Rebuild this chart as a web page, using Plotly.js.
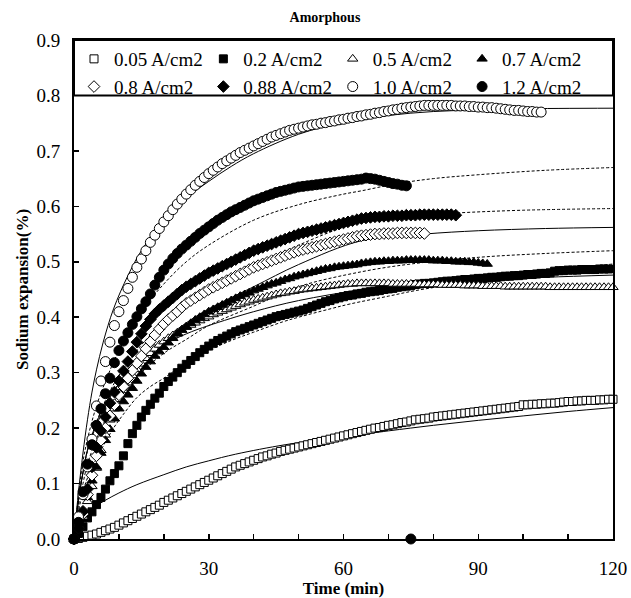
<!DOCTYPE html>
<html>
<head>
<meta charset="utf-8">
<script src="https://cdn.plot.ly/plotly-3.0.1.min.js"></script>
<style>html,body{margin:0;padding:0;background:#fff;}#chart{width:631px;height:598px;}</style>
</head>
<body>
<div id="chart"></div>
<script>
// Measured series: one value per minute starting at t = 0 (min)
const seriesNames = ["0.05 A/cm2","0.2 A/cm2","0.5 A/cm2","0.7 A/cm2","0.8 A/cm2","0.88 A/cm2","1.0 A/cm2","1.2 A/cm2"];

const v005 = [0,0.001,0.003,0.005,0.007,0.009,0.012,0.015,0.018,0.021,0.025,0.029,0.033,0.037,0.041,0.045,0.049,0.053,0.057,0.061,0.066,0.070,0.074,0.078,0.082,0.086,0.090,0.094,0.098,0.102,0.106,0.110,0.114,0.118,0.122,0.126,0.130,0.133,0.136,0.139,0.142,0.145,0.148,0.150,0.153,0.155,0.158,0.160,0.162,0.164,0.166,0.168,0.170,0.172,0.174,0.176,0.178,0.180,0.182,0.184,0.186,0.188,0.190,0.192,0.194,0.196,0.198,0.200,0.201,0.203,0.205,0.206,0.208,0.210,0.211,0.213,0.215,0.216,0.217,0.218,0.220,0.221,0.222,0.223,0.224,0.225,0.226,0.227,0.228,0.229,0.230,0.231,0.232,0.233,0.234,0.235,0.236,0.237,0.238,0.239,0.242,0.242,0.243,0.243,0.244,0.244,0.245,0.245,0.246,0.247,0.248,0.248,0.249,0.249,0.250,0.250,0.250,0.251,0.251,0.252,0.252];

const v02 = [0,0.010,0.022,0.038,0.049,0.062,0.075,0.090,0.105,0.118,0.132,0.150,0.172,0.190,0.205,0.220,0.232,0.243,0.254,0.263,0.275,0.284,0.292,0.300,0.308,0.315,0.322,0.329,0.336,0.342,0.348,0.353,0.358,0.362,0.366,0.370,0.374,0.377,0.380,0.383,0.386,0.389,0.392,0.395,0.398,0.401,0.403,0.405,0.407,0.409,0.411,0.413,0.416,0.419,0.422,0.425,0.428,0.430,0.433,0.435,0.437,0.439,0.440,0.442,0.443,0.445,0.446,0.447,0.448,0.450,0.451,0.452,0.454,0.455,0.456,0.457,0.459,0.460,0.461,0.461,0.462,0.463,0.464,0.465,0.465,0.466,0.467,0.468,0.468,0.469,0.470,0.470,0.471,0.472,0.472,0.473,0.474,0.474,0.475,0.475,0.476,0.477,0.477,0.478,0.479,0.479,0.480,0.483,0.484,0.484,0.485,0.485,0.485,0.486,0.486,0.486,0.486,0.487,0.487,0.487];

const v05 = [0,0.020,0.040,0.068,0.095,0.128,0.160,0.188,0.215,0.235,0.252,0.268,0.282,0.295,0.306,0.316,0.326,0.335,0.343,0.350,0.356,0.362,0.367,0.372,0.377,0.382,0.386,0.390,0.394,0.398,0.401,0.405,0.408,0.411,0.414,0.417,0.420,0.423,0.426,0.428,0.431,0.433,0.435,0.437,0.439,0.441,0.443,0.444,0.446,0.447,0.449,0.450,0.451,0.452,0.453,0.454,0.455,0.456,0.457,0.458,0.459,0.460,0.460,0.461,0.461,0.461,0.461,0.461,0.461,0.461,0.461,0.460,0.460,0.460,0.460,0.460,0.460,0.459,0.459,0.459,0.459,0.459,0.458,0.458,0.458,0.458,0.458,0.457,0.457,0.457,0.457,0.456,0.456,0.456,0.456,0.456,0.455,0.455,0.455,0.455,0.455,0.455,0.455,0.455,0.455,0.455,0.454,0.454,0.454,0.454,0.454,0.454,0.454,0.454,0.454,0.454,0.454,0.454,0.454,0.454,0.454];

const v07 = [0,0.020,0.045,0.075,0.105,0.130,0.155,0.178,0.198,0.217,0.235,0.248,0.260,0.272,0.285,0.298,0.310,0.320,0.330,0.338,0.346,0.354,0.362,0.370,0.377,0.383,0.389,0.395,0.400,0.405,0.410,0.414,0.418,0.422,0.426,0.430,0.434,0.438,0.441,0.444,0.448,0.451,0.454,0.457,0.460,0.462,0.465,0.468,0.470,0.473,0.475,0.477,0.479,0.481,0.483,0.485,0.487,0.488,0.490,0.491,0.492,0.493,0.494,0.495,0.497,0.498,0.499,0.500,0.500,0.501,0.501,0.502,0.502,0.502,0.503,0.503,0.503,0.503,0.503,0.503,0.502,0.502,0.502,0.501,0.501,0.500,0.500,0.500,0.499,0.499,0.498,0.497,0.496];

const v08 = [0,0.020,0.045,0.080,0.115,0.150,0.178,0.200,0.222,0.242,0.260,0.275,0.290,0.304,0.317,0.330,0.343,0.356,0.368,0.379,0.388,0.396,0.403,0.410,0.418,0.425,0.430,0.435,0.440,0.445,0.450,0.454,0.458,0.462,0.466,0.470,0.474,0.478,0.482,0.486,0.490,0.493,0.496,0.499,0.502,0.505,0.508,0.511,0.514,0.517,0.520,0.522,0.524,0.526,0.528,0.530,0.532,0.534,0.536,0.538,0.540,0.542,0.544,0.546,0.547,0.548,0.549,0.550,0.550,0.551,0.551,0.551,0.552,0.552,0.552,0.552,0.552,0.552,0.551];

const v088 = [0,0.020,0.050,0.090,0.130,0.165,0.195,0.220,0.245,0.265,0.285,0.303,0.320,0.338,0.355,0.370,0.384,0.396,0.406,0.414,0.421,0.428,0.435,0.442,0.449,0.455,0.460,0.465,0.470,0.475,0.480,0.484,0.488,0.492,0.496,0.500,0.504,0.508,0.512,0.516,0.520,0.523,0.526,0.529,0.532,0.535,0.538,0.541,0.544,0.547,0.550,0.552,0.554,0.556,0.558,0.560,0.562,0.564,0.566,0.568,0.570,0.572,0.574,0.576,0.578,0.579,0.580,0.581,0.581,0.582,0.582,0.583,0.583,0.583,0.584,0.584,0.584,0.585,0.585,0.585,0.585,0.585,0.585,0.585,0.585,0.584];

const v10 = [0,0.040,0.080,0.130,0.180,0.240,0.285,0.320,0.355,0.385,0.410,0.430,0.452,0.472,0.490,0.505,0.520,0.535,0.548,0.560,0.572,0.583,0.594,0.604,0.613,0.622,0.630,0.638,0.645,0.652,0.659,0.665,0.671,0.677,0.682,0.687,0.692,0.697,0.701,0.705,0.709,0.713,0.717,0.721,0.725,0.728,0.731,0.734,0.737,0.739,0.741,0.743,0.745,0.747,0.748,0.750,0.751,0.753,0.754,0.756,0.757,0.759,0.760,0.762,0.763,0.765,0.766,0.768,0.769,0.771,0.772,0.774,0.775,0.777,0.778,0.779,0.780,0.781,0.782,0.782,0.782,0.782,0.782,0.782,0.782,0.781,0.781,0.781,0.780,0.780,0.779,0.779,0.778,0.778,0.777,0.776,0.775,0.774,0.773,0.773,0.772,0.771,0.771,0.770,0.770];

const v12 = [0,0.030,0.085,0.135,0.170,0.205,0.235,0.262,0.290,0.318,0.340,0.357,0.372,0.387,0.401,0.415,0.428,0.442,0.458,0.472,0.485,0.496,0.506,0.515,0.523,0.530,0.537,0.544,0.551,0.557,0.563,0.569,0.575,0.580,0.585,0.590,0.594,0.598,0.602,0.606,0.610,0.613,0.616,0.619,0.622,0.625,0.627,0.629,0.631,0.633,0.635,0.636,0.637,0.638,0.639,0.640,0.641,0.642,0.643,0.644,0.645,0.646,0.647,0.648,0.649,0.651,0.650,0.649,0.647,0.645,0.643,0.641,0.640,0.638,0.637];
// isolated 1.2 A/cm2 point lying on the time axis
const stray12T = [75];
const stray12V = [0];

// Fitted curves (read at sample times)
const fit005T = [0,0.5,1,2,3,5,7,10,14,20,25,30,36,47,57,61.5,70,80,90,100,110,120];
const fit005V = [0,0.02,0.03,0.04,0.048,0.06,0.07,0.083,0.098,0.116,0.13,0.141,0.153,0.17,0.181,0.186,0.195,0.205,0.214,0.222,0.23,0.237];
const fit02T = [0,1,2,3,5,7,8.8,11,14,17,20,25,30,35,40,46.6,50,57,61.5,70,76,90,100,110,120];
const fit02V = [0,0.05,0.085,0.11,0.145,0.175,0.2,0.225,0.255,0.275,0.29,0.318,0.34,0.358,0.373,0.392,0.4,0.415,0.424,0.438,0.448,0.466,0.477,0.487,0.496];
const fit05T = [0,1,2,3,5,7,10,15,20,25,30,40,50,63.7,75,90,105,120];
const fit05V = [0,0.07,0.12,0.16,0.21,0.245,0.28,0.32,0.35,0.37,0.385,0.41,0.43,0.449,0.458,0.466,0.472,0.476];
const fit07T = [0,1,2,3,5,7,10,15,20,25,30,40,50,64,75,90,105,120];
const fit07V = [0,0.06,0.1,0.135,0.18,0.215,0.255,0.3,0.335,0.36,0.385,0.42,0.455,0.482,0.496,0.508,0.515,0.52];
const fit08T = [0,1,2,3,5,7,10,15,20,25,30,40,50,64,78,90,105,120];
const fit08V = [0,0.07,0.12,0.16,0.205,0.24,0.28,0.325,0.36,0.39,0.415,0.455,0.495,0.538,0.55,0.556,0.56,0.562];
const fit088T = [0,1,2,3,5,7,10,15,20,25,30,40,50,64,75,85,100,120];
const fit088V = [0,0.07,0.12,0.16,0.21,0.25,0.295,0.35,0.39,0.42,0.445,0.49,0.53,0.572,0.583,0.588,0.593,0.596];
const fit10T = [0,1,2,3,4,5,6.5,8.8,12,15,20,25,30,35,40,50,60,70,80,90,100,120];
const fit10V = [0,0.085,0.155,0.215,0.265,0.305,0.355,0.415,0.475,0.52,0.575,0.615,0.645,0.672,0.695,0.73,0.752,0.764,0.771,0.774,0.776,0.777];
const fit12T = [0,1,2,3,5,7.3,10,15,20,25,30,40,50,60,64,72,80,90,105,120];
const fit12V = [0,0.08,0.14,0.18,0.24,0.29,0.34,0.41,0.46,0.5,0.53,0.575,0.603,0.622,0.628,0.641,0.65,0.657,0.665,0.67];

const minutes = arr => arr.map((_, i) => i);
const FONT = '"Liberation Serif", "Times New Roman", serif';

const fits = [
  [fit005T, fit005V, 'solid'], [fit02T, fit02V, 'dot'], [fit05T, fit05V, 'solid'], [fit07T, fit07V, 'dot'],
  [fit08T, fit08V, 'solid'], [fit088T, fit088V, 'dot'], [fit10T, fit10V, 'solid'], [fit12T, fit12V, 'dot']
];
const traces = fits.map(f => ({
  x: f[0], y: f[1], type: 'scatter', mode: 'lines', showlegend: false, hoverinfo: 'skip',
  line: {color: '#000', width: 1, dash: f[2] === 'dot' ? '3px,2px' : 'solid', shape: 'spline', smoothing: 1}
}));

const markerDefs = [
  [v005, 'square', true, 8], [v02, 'square', false, 8], [v05, 'triangle-up', true, 9], [v07, 'triangle-up', false, 9],
  [v08, 'diamond', true, 9], [v088, 'diamond', false, 9], [v10, 'circle', true, 10], [v12, 'circle', false, 10]
];
markerDefs.forEach((m, i) => {
  traces.push({
    x: minutes(m[0]), y: m[0], type: 'scatter', mode: 'markers', name: seriesNames[i], cliponaxis: false,
    marker: {symbol: m[1], size: m[3], color: m[2] ? '#fff' : '#000', line: {color: '#000', width: 1}}
  });
});
traces.push({
  x: stray12T, y: stray12V, type: 'scatter', mode: 'markers', showlegend: false, cliponaxis: false,
  marker: {symbol: 'circle', size: 10, color: '#000', line: {color: '#000', width: 1}}
});

const layout = {
  width: 631, height: 598,
  margin: {l: 74, r: 18, t: 40, b: 59},
  paper_bgcolor: '#fff', plot_bgcolor: '#fff',
  font: {family: FONT, color: '#000', size: 19},
  title: {text: '<b>Amorphous</b>', font: {family: FONT, size: 14, color: '#000'}, x: 0.515, xref: 'container', xanchor: 'center', y: 1 - 17/598, yref: 'container', yanchor: 'middle'},
  xaxis: {
    range: [0, 120], dtick: 30, tick0: 0, ticks: 'inside', ticklen: 5, tickwidth: 1.5, tickcolor: '#000',
    showline: true, linewidth: 2, linecolor: '#000', mirror: true, showgrid: false, zeroline: false,
    ticklabelstandoff: 11,
    minor: {dtick: 10, tick0: 0, ticks: 'inside', ticklen: 5, tickwidth: 1.5, tickcolor: '#000', showgrid: false},
    tickfont: {family: FONT, size: 19, color: '#000'},
    title: {text: '<b>Time (min)</b>', font: {family: FONT, size: 17, color: '#000'}, standoff: 0}
  },
  yaxis: {
    range: [0, 0.9], dtick: 0.1, tick0: 0, tickformat: '.1f', ticks: 'inside', ticklen: 5, tickwidth: 1.5, tickcolor: '#000',
    showline: true, linewidth: 2, linecolor: '#000', mirror: true, showgrid: false, zeroline: false,
    ticklabelstandoff: 8,
    tickfont: {family: FONT, size: 19, color: '#000'},
    title: {text: '<b>Sodium expansion(%)</b>', font: {family: FONT, size: 17, color: '#000'}, standoff: 4}
  },
  shapes: [{type: 'rect', xref: 'paper', x0: 0, x1: 1, yref: 'y', y0: 0.8, y1: 0.9, fillcolor: '#fff', line: {color: '#000', width: 2}, layer: 'below'}],
  legend: {
    orientation: 'h', x: 0, xanchor: 'left', y: 1, yanchor: 'top', xref: 'paper', yref: 'paper',
    bgcolor: 'rgba(0,0,0,0)', borderwidth: 0, entrywidth: 0.24, entrywidthmode: 'fraction',
    font: {family: FONT, size: 19, color: '#000'}, itemwidth: 30, tracegroupgap: 0
  },
  showlegend: true
};

Plotly.newPlot('chart', traces, layout, {displayModeBar: false, staticPlot: true});
</script>
</body>
</html>
